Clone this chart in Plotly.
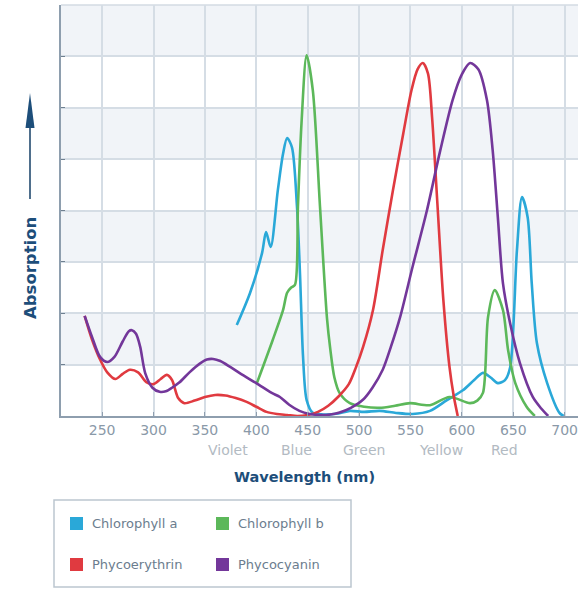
import plotly.graph_objects as go

# ---------------- data ----------------
chl_a_x = [381, 394, 405.6, 409.5, 414, 421, 426, 430, 434.7, 439.6, 442.5, 445.5, 449, 455,
           465, 480, 491, 505, 520, 536, 552, 569, 585.5, 601, 612, 620.5, 628, 635, 642, 647,
           653.6, 658.5, 664, 668, 673, 683, 695, 699]
chl_a_y = [1.77, 2.4, 3.17, 3.58, 3.29, 4.4, 5.1, 5.41, 5.23, 4.07, 2.78, 1.15, 0.31, 0.06,
           0.03, 0.05, 0.1, 0.08, 0.1, 0.06, 0.04, 0.1, 0.31, 0.5, 0.7, 0.84, 0.75, 0.64, 0.7,
           0.95, 3.23, 4.26, 3.87, 2.58, 1.42, 0.64, 0.06, 0.0]

chl_b_x = [400.6, 416, 426, 430, 434, 437.6, 440.5, 444, 449, 455, 462, 468.8, 472, 476, 481,
           491, 505, 520, 535, 549.5, 569, 588, 608, 615, 620.5, 625.5, 632, 640, 645, 652,
           663, 671]
chl_b_y = [0.64, 1.48, 2.06, 2.4, 2.5, 2.55, 4.07, 5.7, 7.02, 6.34, 4.07, 1.9, 1.3, 0.75, 0.45,
           0.25, 0.18, 0.16, 0.2, 0.25, 0.21, 0.37, 0.25, 0.3, 0.45, 1.93, 2.45, 2.06, 1.28,
           0.64, 0.18, 0.0]

phe_x = [233, 240, 248, 255, 263, 270, 277, 285, 293, 300, 307, 313, 318, 324, 330, 340, 350,
         360, 370, 380, 390, 400, 410, 420, 430, 440, 450, 460, 470, 480, 490, 497, 504, 513.5,
         523, 533, 543, 551, 557, 562, 567, 571, 576, 582, 588, 592, 596]
phe_y = [1.95, 1.5, 1.1, 0.85, 0.72, 0.82, 0.9, 0.85, 0.66, 0.62, 0.72, 0.8, 0.7, 0.35, 0.25,
         0.3, 0.37, 0.41, 0.4, 0.35, 0.28, 0.18, 0.08, 0.04, 0.02, 0.0, 0.02, 0.08, 0.2, 0.38,
         0.62, 0.95, 1.35, 2.06, 3.23, 4.4, 5.5, 6.34, 6.75, 6.87, 6.67, 5.82, 4.2, 2.26, 0.95,
         0.4, 0.0]

phc_x = [233, 240, 248, 255, 262, 270, 276, 279, 283, 287, 292, 299, 306, 312, 318, 325, 335,
         345, 352, 358, 365, 375, 385, 400, 415, 423, 432, 442, 452, 462, 472, 481, 492, 504,
         513, 523, 531, 540, 552, 566, 579, 591, 600, 608, 616, 624.4, 630, 635, 640, 647,
         656.5, 669, 677, 684]
phc_y = [1.95, 1.55, 1.15, 1.05, 1.15, 1.45, 1.65, 1.67, 1.6, 1.35, 0.83, 0.55, 0.47, 0.48,
         0.55, 0.65, 0.85, 1.02, 1.1, 1.11, 1.07, 0.95, 0.82, 0.64, 0.45, 0.37, 0.22, 0.1,
         0.04, 0.02, 0.03, 0.07, 0.16, 0.32, 0.55, 0.9, 1.35, 1.93, 2.9, 4.0, 5.17, 6.15, 6.65,
         6.87, 6.75, 6.15, 5.17, 3.87, 2.58, 1.8, 1.03, 0.37, 0.15, 0.0]

series_names = ["Chlorophyll a", "Chlorophyll b", "Phycoerythrin", "Phycocyanin"]
series_colors = ["#2aa8d8", "#5cb85a", "#e03a40", "#73379a"]

x_ticks = [250, 300, 350, 400, 450, 500, 550, 600, 650, 700]
color_names = ["Violet", "Blue", "Green", "Yellow", "Red"]
color_pos = [372, 439, 505, 580, 641]

# ---------------- figure ----------------
W, H = 584, 589
L, R, T, B = 61, 6, 5, 173
PW, PH = W - L - R, H - T - B


def px(xp):
    return (xp - L) / PW


def py(yp):
    return (H - B - yp) / PH


fig = go.Figure()
data = [(chl_a_x, chl_a_y), (chl_b_x, chl_b_y), (phe_x, phe_y), (phc_x, phc_y)]
for (xs, ys), name, col in zip(data, series_names, series_colors):
    fig.add_trace(go.Scatter(x=xs, y=ys, mode="lines", name=name,
                             line=dict(color=col, width=2.6, shape="spline", smoothing=0.8),
                             showlegend=False))

shapes = []
# alternating background bands
for k in [1, 3, 5, 7]:
    shapes.append(dict(type="rect", xref="paper", yref="y", x0=0, x1=1, y0=k, y1=k + 1,
                       fillcolor="#f1f4f8", line=dict(width=0), layer="below"))
# top border line
shapes.append(dict(type="line", xref="paper", yref="paper", x0=0, x1=1, y0=1, y1=1,
                   line=dict(color="#d3dbe3", width=1.5), layer="below"))

annotations = []
for name, pos in zip(color_names, color_pos):
    annotations.append(dict(x=pos, y=py(450), xref="x", yref="paper", text=name,
                            showarrow=False, font=dict(family="DejaVu Sans", size=14,
                                                       color="#b2bac2"),
                            xanchor="center", yanchor="middle"))
annotations.append(dict(x=px(304), y=py(477), xref="paper", yref="paper",
                        text="<b>Wavelength (nm)</b>", showarrow=False,
                        font=dict(family="DejaVu Sans", size=14.5, color="#1d4e7a"),
                        xanchor="center", yanchor="middle"))
annotations.append(dict(x=px(30), y=py(268), xref="paper", yref="paper",
                        text="<b>Absorption</b>", textangle=-90, showarrow=False,
                        font=dict(family="DejaVu Sans", size=16.5, color="#1d4e7a"),
                        xanchor="center", yanchor="middle"))
# arrow above the y title: shaft + long narrow head
shapes.append(dict(type="line", xref="paper", yref="paper", x0=px(30), x1=px(30),
                   y0=py(199), y1=py(125), line=dict(color="#4f6f8c", width=2)))
shapes.append(dict(type="path", xref="paper", yref="paper",
                   path="M {a},{b} L {c},{b} L {d},{e} Z".format(
                       a=px(25.5), b=py(128), c=px(34.5), d=px(30), e=py(93)),
                   fillcolor="#1d4e7a", line=dict(width=0)))

# legend box
shapes.append(dict(type="rect", xref="paper", yref="paper", x0=px(54), x1=px(351),
                   y0=py(587), y1=py(500), line=dict(color="#bcc6cf", width=1.5),
                   fillcolor="white"))
leg_pos = [(70, 523), (216, 523), (70, 564), (216, 564)]
for (lx, ly), name, col in zip(leg_pos, series_names, series_colors):
    shapes.append(dict(type="rect", xref="paper", yref="paper", x0=px(lx), x1=px(lx + 13),
                       y0=py(ly + 7), y1=py(ly - 6), fillcolor=col, line=dict(width=0)))
    annotations.append(dict(x=px(lx + 20), y=py(ly), xref="paper", yref="paper", text=name,
                            showarrow=False, xanchor="left", yanchor="middle",
                            font=dict(family="DejaVu Sans", size=13, color="#6b7d8e")))

fig.update_layout(
    width=W, height=H,
    margin=dict(l=L, r=R, t=T, b=B),
    paper_bgcolor="white", plot_bgcolor="white",
    shapes=shapes, annotations=annotations,
    showlegend=False,
    xaxis=dict(range=[210, 713], tickvals=x_ticks, ticktext=[str(v) for v in x_ticks],
               showgrid=True, gridcolor="#d5dde5", gridwidth=1.5,
               showline=True, linecolor="#8e9eae", linewidth=2,
               ticks="inside", ticklen=4, tickcolor="#8e9eae",
               tickfont=dict(family="DejaVu Sans", size=14, color="#8a99a8"),
               zeroline=False, fixedrange=True),
    yaxis=dict(range=[0, 8], dtick=1, showticklabels=False,
               showgrid=True, gridcolor="#d5dde5", gridwidth=1.5,
               showline=True, linecolor="#8e9eae", linewidth=2,
               ticks="inside", ticklen=4, tickcolor="#6f8090",
               zeroline=False, fixedrange=True),
)

fig.write_html("out.html")
